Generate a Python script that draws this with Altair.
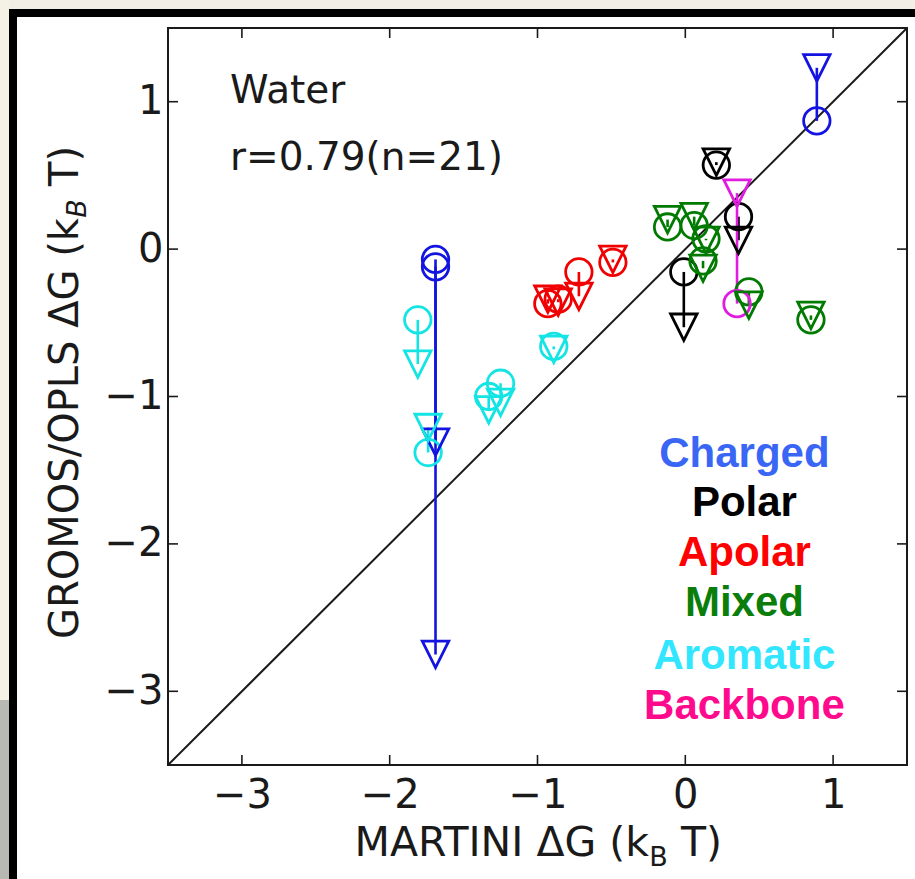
import altair as alt
import pandas as pd

# ---------------- data ----------------
categories = ["Charged", "Charged", "Charged",
              "Polar", "Polar", "Polar",
              "Apolar", "Apolar", "Apolar", "Apolar",
              "Mixed", "Mixed", "Mixed", "Mixed", "Mixed", "Mixed",
              "Aromatic", "Aromatic", "Aromatic", "Aromatic", "Aromatic",
              "Backbone"]
martini = [0.89, -1.69, -1.69,
           0.21, -0.01, 0.36,
           -0.93, -0.86, -0.72, -0.49,
           -0.12, 0.06, 0.14, 0.12, 0.43, 0.85,
           -1.81, -1.74, -1.25, -1.33, -0.89,
           0.35]
gromos = [0.87, -0.07, -0.12,
          0.57, -0.155, 0.22,
          -0.37, -0.34, -0.155, -0.09,
          0.15, 0.16, 0.07, -0.08, -0.29, -0.48,
          -0.48, -1.38, -0.91, -1.00, -0.66,
          -0.37]
opls = [1.23, -1.31, -2.75,
        0.59, -0.53, 0.06,
        -0.34, -0.36, -0.32, -0.07,
        0.20, 0.22, 0.06, -0.13, -0.38, -0.45,
        -0.78, -1.21, -1.04, -1.09, -0.68,
        0.38]

cat_names = ["Charged", "Polar", "Apolar", "Mixed", "Aromatic", "Backbone"]
marker_colors = ["#1414e0", "#000000", "#f00000", "#007a00", "#14e4e4", "#e01ce0"]
label_colors = ["#3a66f5", "#000000", "#ff0000", "#0a7d0a", "#33e6ff", "#ff0a8c"]
label_x = [0.40] * 6
label_y = [-1.475, -1.814, -2.152, -2.491, -2.849, -3.188]

tick_values = [-3, -2, -1, 0, 1]
domain = [-3.5, 1.5]
diag = [-3.5, 1.5]

note_text = ["Water", "r=0.79(n=21)"]
note_x = [-3.08, -3.08]
note_y = [0.988, 0.535]

# ---------------- layout ----------------
W, H = 739, 737
PAD_L, PAD_T = 168, 28

df = pd.DataFrame({"cat": categories, "martini": martini,
                   "gromos": gromos, "opls": opls})
df_lab = pd.DataFrame({"cat": cat_names, "lx": label_x, "ly": label_y})
df_diag = pd.DataFrame({"martini": diag, "gromos": diag})
df_ticks = pd.DataFrame({"t": tick_values})
df_note = pd.DataFrame({"txt": note_text, "nx": note_x, "ny": note_y})
one = pd.DataFrame({"a": [0]})

xs = alt.Scale(domain=domain, nice=False, zero=False)
ys = alt.Scale(domain=domain, nice=False, zero=False)
xaxis = alt.Axis(values=tick_values, ticks=False, tickSize=0, domain=False, grid=False,
                 labelFont="DejaVu Sans", labelFontSize=40, labelColor="#1a1a1a",
                 labelPadding=10, title=None, zindex=1)
yaxis = alt.Axis(values=tick_values, ticks=False, tickSize=0, domain=False, grid=False,
                 labelFont="DejaVu Sans", labelFontSize=40, labelColor="#1a1a1a",
                 labelPadding=5, title=None, zindex=1)
color = alt.Color("cat:N", scale=alt.Scale(domain=cat_names, range=marker_colors), legend=None)

# decorative page frame (outside the plot)
def strip(x1, x2, y1, y2, fill):
    return alt.Chart(one).mark_rect(fill=fill, stroke=None).encode(
        x=alt.value(x1 - PAD_L), x2=alt.value(x2 - PAD_L),
        y=alt.value(y1 - PAD_T), y2=alt.value(y2 - PAD_T))

bg = [
    strip(0, 930, 0, 9, "#f1efe6"),
    strip(0, 9, 0, 890, "#f4f2e4"),
    strip(0, 9, 700, 890, "#b9b9b4"),
    strip(9, 930, 9, 17, "#000000"),
    strip(9, 17, 9, 890, "#000000"),
]

diag_line = alt.Chart(df_diag).mark_line(color="#1a1a1a", strokeWidth=2).encode(
    x=alt.X("martini:Q", scale=xs, axis=xaxis),
    y=alt.Y("gromos:Q", scale=ys, axis=yaxis))

connect = alt.Chart(df).mark_rule(strokeWidth=2.6, opacity=1).encode(
    x=alt.X("martini:Q", scale=xs, axis=xaxis),
    y=alt.Y("gromos:Q", scale=ys, axis=yaxis),
    y2="opls:Q", color=color)

circles = alt.Chart(df).mark_point(shape="circle", size=700, strokeWidth=2.8, filled=False,
                                   opacity=1).encode(
    x=alt.X("martini:Q", scale=xs, axis=xaxis),
    y=alt.Y("gromos:Q", scale=ys, axis=yaxis), color=color)

tris = alt.Chart(df).mark_point(shape="M-1,-1L1,-1L0,1Z", size=700, strokeWidth=2.8, filled=False,
                                opacity=1).encode(
    x=alt.X("martini:Q", scale=xs, axis=xaxis),
    y=alt.Y("opls:Q", scale=ys, axis=yaxis), color=color)

tick_style = dict(color="#1a1a1a", strokeWidth=1.6)
ticks_b = alt.Chart(df_ticks).mark_rule(**tick_style).encode(
    x=alt.X("t:Q", scale=xs, axis=xaxis), y=alt.value(H), y2=alt.value(H - 10))
ticks_t = alt.Chart(df_ticks).mark_rule(**tick_style).encode(
    x=alt.X("t:Q", scale=xs, axis=xaxis), y=alt.value(0), y2=alt.value(10))
ticks_l = alt.Chart(df_ticks).mark_rule(**tick_style).encode(
    y=alt.Y("t:Q", scale=ys, axis=yaxis), x=alt.value(0), x2=alt.value(10))
ticks_r = alt.Chart(df_ticks).mark_rule(**tick_style).encode(
    y=alt.Y("t:Q", scale=ys, axis=yaxis), x=alt.value(W), x2=alt.value(W - 10))

notes = alt.Chart(df_note).mark_text(font="DejaVu Sans", fontSize=39, color="#1a1a1a",
                                     align="left", baseline="alphabetic").encode(
    x=alt.X("nx:Q", scale=xs, axis=xaxis), y=alt.Y("ny:Q", scale=ys, axis=yaxis), text="txt:N")

labels = alt.Chart(df_lab).mark_text(font="Liberation Sans", fontWeight="bold", fontSize=42,
                                     align="center", baseline="alphabetic").encode(
    x=alt.X("lx:Q", scale=xs, axis=xaxis), y=alt.Y("ly:Q", scale=ys, axis=yaxis),
    text="cat:N",
    color=alt.Color("cat:N", scale=alt.Scale(domain=cat_names, range=label_colors), legend=None))

# axis titles with a subscript B
def txt(s, x, y, size, align, angle=0, style="normal"):
    return alt.Chart(one).mark_text(text=s, font="DejaVu Sans", fontSize=size, color="#1a1a1a",
                                    align=align, baseline="alphabetic", angle=angle,
                                    fontStyle=style).encode(
        x=alt.value(x), y=alt.value(y))

xt = [txt("MARTINI ΔG (k", 481, 828, 41, "right"),
      txt("B", 490.5, 838, 27, "center"),
      txt("T)", 513, 828, 41, "left")]
yt = [txt("GROMOS/OPLS ΔG (k", -90, 190, 40, "right", angle=270),
      txt("B", -82, 180.5, 27, "center", angle=270, style="italic"),
      txt("T)", -90, 158, 40, "left", angle=270)]

chart = alt.layer(*bg, diag_line, connect, circles, tris,
                  ticks_b, ticks_t, ticks_l, ticks_r, notes, labels, *xt, *yt).resolve_scale(
    color="independent"
).properties(
    width=W, height=H,
    padding={"left": PAD_L, "top": PAD_T, "right": 915 - PAD_L - W, "bottom": 879 - PAD_T - H},
    autosize=alt.AutoSizeParams(type="none"),
    background="#ffffff",
).configure_view(stroke="#1a1a1a", strokeWidth=2)

chart.save("out.html", embed_options={"renderer": "svg", "actions": False})
